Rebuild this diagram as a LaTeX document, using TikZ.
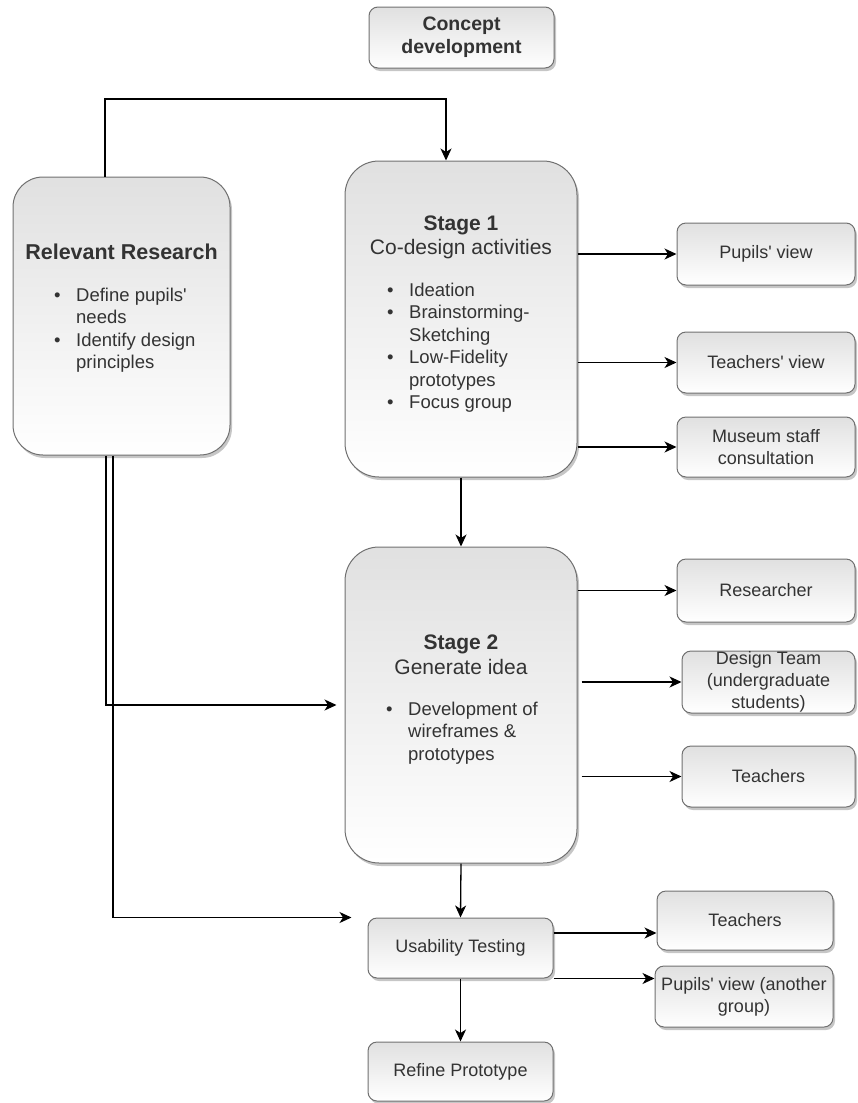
\documentclass[tikz,border=0pt]{standalone}
\usepackage{fontspec}
\setmainfont{Liberation Sans}
\usetikzlibrary{shadows,arrows.meta,calc}
\definecolor{txt}{HTML}{333333}
\definecolor{bord}{HTML}{707070}
\newcommand{\bul}{\makebox[22pt][l]{\textbullet}}
\newcommand{\ap}{\textquotesingle}
\tikzset{
  box/.style={draw=bord, line width=1pt, top color=black!12, bottom color=white,
    rounded corners=#1, inner sep=0pt,
    drop shadow={shadow xshift=2pt, shadow yshift=-3pt, fill=black!50, opacity=0.45},
    text=txt, align=center, font=\fontsize{18}{22}\selectfont},
  box/.default=9pt,
  arr/.style={draw=black, line width=1.3pt, -{Stealth[length=12pt,width=11pt,inset=3.5pt]}},
  ln/.style={draw=black, line width=1.3pt},
  ttl/.style={text=txt, font=\fontsize{21}{24}\selectfont\bfseries, inner sep=0pt, anchor=base},
  sub/.style={text=txt, font=\fontsize{21}{24}\selectfont, inner sep=0pt, anchor=base},
  lst/.style={text=txt, font=\fontsize{18.5}{22.4}\selectfont, inner sep=0pt, anchor=base west},
}
\begin{document}
\begin{tikzpicture}[x=1pt,y=-1pt]
\useasboundingbox (0,0) rectangle (857,1103);

% Concept development
\node[box=9pt, minimum width=185pt, minimum height=61pt,
      font=\fontsize{19.5}{23}\selectfont\bfseries] (cd) at (461.5,37.5) {Concept\\development};

% Relevant research
\node[box=30pt, minimum width=217pt, minimum height=278pt] (rr) at (121.5,316) {};
\node[ttl, font=\fontsize{21.5}{24}\selectfont\bfseries] (rrt) at (121.5,259) {Relevant Research};
\node[lst] (rrl) at (54,301.5) {\begin{tabular}[t]{@{}l@{}l@{}}\bul & Define pupils\ap\\ & needs\\ \bul & Identify design\\ & principles\end{tabular}};

% Stage 1
\node[box=34pt, minimum width=232pt, minimum height=316pt] (s1) at (461,319) {};
\node[ttl] (s1t) at (461,230) {Stage 1};
\node[sub] (s1s) at (461,254.5) {Co-design activities};
\node[lst] (s1l) at (387,296.5) {\begin{tabular}[t]{@{}l@{}l@{}}\bul & Ideation\\ \bul & Brainstorming-\\ & Sketching\\ \bul & Low-Fidelity\\ & prototypes\\ \bul & Focus group\end{tabular}};

% Stage 2
\node[box=34pt, minimum width=232pt, minimum height=316pt] (s2) at (461,705) {};
\node[ttl] (s2t) at (461,649) {Stage 2};
\node[sub] (s2s) at (461,674) {Generate idea};
\node[lst] (s2l) at (386,715.5) {\begin{tabular}[t]{@{}l@{}l@{}}\bul & Development of\\ & wireframes \&\\ & prototypes\end{tabular}};

% Right boxes for stage 1
\node[box, minimum width=178pt, minimum height=62pt] (pv) at (766,254) {Pupils\ap{} view};
\node[box, minimum width=178pt, minimum height=61pt] (tv) at (766,362.5) {Teachers\ap{} view};
\node[box, minimum width=178pt, minimum height=60pt] (ms) at (766,447) {Museum staff\\consultation};

% Right boxes for stage 2
\node[box, minimum width=178pt, minimum height=63pt] (re) at (766,590.5) {Researcher};
\node[box, minimum width=173pt, minimum height=62pt] (dt) at (768.5,682) {Design Team\\(undergraduate\\students)};
\node[box, minimum width=173pt, minimum height=61pt] (te) at (768.5,776.5) {Teachers};

% Usability testing and refine
\node[box, minimum width=185pt, minimum height=60pt] (ut) at (460.5,948) {Usability Testing};
\node[box, minimum width=185pt, minimum height=59pt] (rp) at (460.5,1071.5) {Refine Prototype};
\node[box, minimum width=176pt, minimum height=59pt] (t2) at (745,920.5) {Teachers};
\node[box, minimum width=178pt, minimum height=61pt] (p2) at (744,996.5) {Pupils\ap{} view (another\\group)};

% Connectors
\coordinate (tc) at (0,99);
\draw[arr] ([xshift=-16.5pt]rr.north) -- ([xshift=-16.5pt]rr.north |- tc) -| ([xshift=-15pt]s1.north);
\draw[arr] (s1.south) -- (s2.north);
\draw[arr] (s1.east |- pv.west) -- (pv.west);
\draw[arr] (s1.east |- tv.west) -- (tv.west);
\draw[arr] (s1.east |- ms.west) -- (ms.west);
\draw[arr] (s2.east |- re.west) -- (re.west);
\draw[arr] ([xshift=4pt]s2.east |- dt.west) -- (dt.west);
\draw[arr] ([xshift=4pt]s2.east |- te.west) -- (te.west);
\draw[arr, shorten >=8pt] ([xshift=-15.5pt]rr.south) |- (s2.west);
\draw[arr, shorten >=16pt] ([xshift=-8.5pt]rr.south) |- (ut.north west);
\draw[arr] (s2.south) -- (ut.north);
\draw[arr] (ut.south) -- (rp.north);
\draw[arr] ([yshift=15pt]ut.east) -- ([yshift=15pt]ut.east -| t2.west);
\draw[arr] (ut.south east) -- (ut.south east -| p2.west);
\end{tikzpicture}
\end{document}
